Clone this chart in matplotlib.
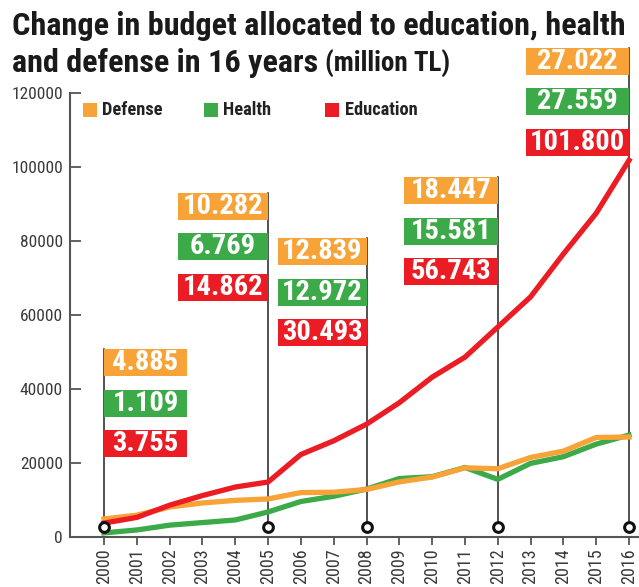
import matplotlib
matplotlib.use("Agg")
import matplotlib.pyplot as plt
from matplotlib.patches import Rectangle

# data (million TL)
years = list(range(2000, 2017))
defense = [4885, 5900, 8100, 9200, 9900, 10282, 12000, 12100, 12839, 14900,
           16200, 18700, 18447, 21500, 23200, 26900, 27022]
health = [1109, 1900, 3200, 3900, 4600, 6769, 9600, 11000, 12972, 15800,
          16300, 18800, 15581, 19900, 21700, 25100, 27559]
education = [3755, 5300, 8600, 11200, 13500, 14862, 22300, 26000, 30493, 36300,
             43200, 48600, 56743, 64900, 76500, 87500, 101800]
series_names = ["Defense", "Health", "Education"]
label_years = [2000, 2005, 2008, 2012, 2016]

# layout of the value boxes
label_top = [50800, 93000, 80800, 97300, 132200]
label_width = [2.53, 2.74, 2.71, 2.87, 3.14]
label_side = ["right", "left", "left", "left", "left"]

ORANGE = "#F7A337"
GREEN = "#3DAA49"
RED = "#EC1C24"
colors = [ORANGE, GREEN, RED]
FONT = ["Roboto Condensed", "Barlow Condensed", "DejaVu Sans"]

W, H = 639, 587
fig = plt.figure(figsize=(W / 100, H / 100), dpi=100)
ax = fig.add_axes([70 / W, 50 / H, 569 / W, 444 / H])

ax.plot(years, health, color=GREEN, lw=3.8, zorder=3)
ax.plot(years, defense, color=ORANGE, lw=3.8, zorder=3.1)
ax.plot(years, education, color=RED, lw=3.8, zorder=3.2)

ax.set_xlim(1998.963, 2016.305)
ax.set_ylim(0, 120000)

# value boxes with pointer lines
values = {"Defense": defense, "Health": health, "Education": education}
box_h = 7300
box_gap = 10950
for yr, top, w, side in zip(label_years, label_top, label_width, label_side):
    i = years.index(yr)
    ax.plot([yr, yr], [2700, top], color="#222222", lw=1.1, zorder=2, clip_on=False)
    ax.plot([yr], [2700], marker="o", ms=7, mfc="white", mec="#111111", mew=2.2,
            zorder=4, clip_on=False)
    x0 = yr if side == "right" else yr - w
    for k, (name, c) in enumerate(zip(series_names, colors)):
        y1 = top - k * box_gap
        ax.add_patch(Rectangle((x0, y1 - box_h), w, box_h, facecolor=c,
                               edgecolor="none", zorder=5, clip_on=False))
        txt = f"{values[name][i]:,}".replace(",", ".")
        ax.text(x0 + w / 2, y1 - box_h / 2, txt, color="white", fontsize=20.5,
                fontweight="bold", family=FONT, stretch="condensed",
                ha="center", va="center", zorder=6, clip_on=False)

# legend
for name, c, sx, tx in zip(series_names, colors, [83, 204, 325], [102, 223, 345]):
    ax.add_patch(Rectangle(((sx - 70) / 569, (537 - 117) / 444), 14 / 569, 14 / 444,
                           transform=ax.transAxes, facecolor=c, edgecolor="none"))
    ax.text((tx - 70) / 569, (537 - 110) / 444, name, transform=ax.transAxes,
            fontsize=13.2, fontweight="bold", family=FONT, stretch="condensed",
            color="#222222", va="center", ha="left")

# axes styling
for s in ["top", "right"]:
    ax.spines[s].set_visible(False)
for s in ["left", "bottom"]:
    ax.spines[s].set_color("#555555")
    ax.spines[s].set_linewidth(1.5)
ax.set_yticks(range(0, 120001, 20000))
ax.set_xticks(years)
ax.tick_params(axis="y", direction="in", length=8, width=1.3, color="#555555",
               pad=5, labelsize=12.5, labelcolor="#3a3a3a")
ax.tick_params(axis="x", direction="out", length=6, width=1.3, color="#555555",
               pad=2, labelsize=13, labelcolor="#3a3a3a", labelrotation=90)
for lab in ax.get_xticklabels() + ax.get_yticklabels():
    lab.set_family(FONT)
    lab.set_stretch("condensed")

# title, fitted to the width of the original
renderer = fig.canvas.get_renderer()
t1 = fig.text(12 / W, 1 - 35 / H, "Change in budget allocated to education, health",
              fontsize=24, fontweight="bold", family=FONT, stretch="condensed",
              color="#1a1a1a", va="baseline", ha="left")
w1 = t1.get_window_extent(renderer).width
size = 24 * 616 / w1
t1.set_fontsize(size)
t2 = fig.text(12 / W, 1 - 72 / H, "and defense in 16 years", fontsize=size,
              fontweight="bold", family=FONT, stretch="condensed",
              color="#1a1a1a", va="baseline", ha="left")
x2 = t2.get_window_extent(renderer).x1
fig.text((x2 + 7) / W, 1 - 72 / H, "(million TL)", fontsize=size * 0.84,
         fontweight="bold", family=FONT, stretch="condensed",
         color="#1a1a1a", va="baseline", ha="left")

fig.savefig("out.png", dpi=100, facecolor="white")
